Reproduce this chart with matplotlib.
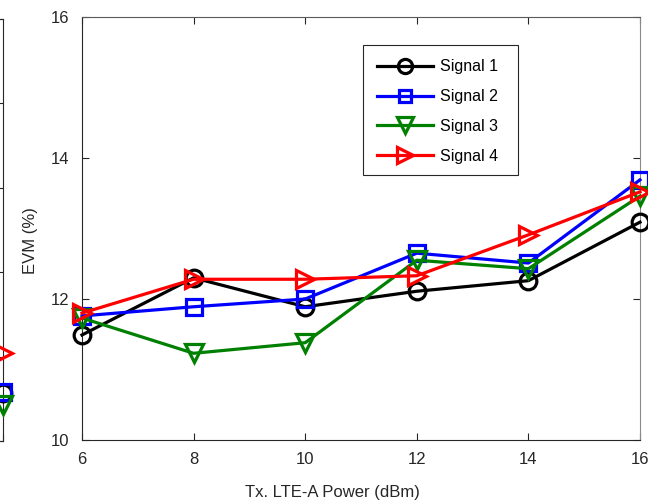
import numpy as np
import matplotlib
matplotlib.use("Agg")
import matplotlib.pyplot as plt
from matplotlib.patches import Rectangle

plt.rcParams['font.family'] = ['Liberation Sans', 'DejaVu Sans']

# ── Data ───────────────────────────────────────────────────────────────
power = [6, 8, 10, 12, 14, 16]
signal1 = [11.49, 12.30, 11.89, 12.11, 12.26, 13.09]
signal2 = [11.76, 11.89, 12.00, 12.65, 12.51, 13.69]
signal3 = [11.73, 11.23, 11.38, 12.55, 12.43, 13.46]
signal4 = [11.80, 12.28, 12.28, 12.33, 12.91, 13.52]

# neighbouring (cropped) panel: only its last points are visible
left_x = [0, 1]
left_s1 = [None, 1.14]
left_s2 = [None, 1.16]
left_s3 = [None, 0.85]
left_s4 = [None, 2.08]

labels = ['Signal 1', 'Signal 2', 'Signal 3', 'Signal 4']
colors = ['black', 'blue', 'green', 'red']
markers = ['o', 's', 'v', '>']
msizes = [12, 11, 13, 13]

W, H = 648, 503
fig = plt.figure(figsize=(W / 100, H / 100), dpi=100)

def px_box(x0, y0, x1, y1):
    return [x0 / W, 1 - y1 / H, (x1 - x0) / W, (y1 - y0) / H]

axc = '#262626'
style = dict(lw=2.3, mew=2.3, fillstyle='none', clip_on=False, zorder=3)

# ── Cropped left panel ─────────────────────────────────────────────────
axl = fig.add_axes(px_box(-400, 19, 3, 441))
for ys, c, m, s in zip([left_s1, left_s2, left_s3, left_s4], colors, markers, msizes):
    y = [np.nan if v is None else v for v in ys]
    axl.plot(left_x, y, color=c, marker=m, ms=s, **style)
axl.set_xlim(0, 1)
axl.set_ylim(0, 10)
axl.set_yticks([0, 2, 4, 6, 8, 10])
axl.tick_params(direction='in', length=5, right=True, top=False,
                labelleft=False, labelbottom=False, color=axc)
for sp in axl.spines.values():
    sp.set_color(axc)

# ── Main panel ─────────────────────────────────────────────────────────
ax = fig.add_axes(px_box(82, 17, 640, 440))
for ys, lab, c, m, s in zip([signal1, signal2, signal3, signal4], labels, colors, markers, msizes):
    ax.plot(power, ys, color=c, marker=m, ms=s, label=lab, **style)

ax.set_xlim(6, 16)
ax.set_ylim(10, 16)
ax.set_xticks([6, 8, 10, 12, 14, 16])
ax.set_yticks([10, 12, 14, 16])
ax.tick_params(direction='in', length=5, top=True, right=True,
               labelsize=12, colors=axc, pad=9)
ax.spines['left'].set_color(axc)
ax.spines['bottom'].set_color(axc)
ax.spines['top'].set_color('#5a5a5a')
ax.spines['right'].set_color('#8a8a8a')

ax.set_xlabel('Tx. LTE-A Power (dBm)', fontsize=12, color=axc, va='center')
ax.xaxis.set_label_coords((332 - 82) / 558, (440 - 492) / 423)
ax.set_ylabel('EVM (%)', fontsize=12, color=axc, va='center')
ax.yaxis.set_label_coords((30 - 82) / 558, (440 - 241) / 423)

# legend frame (MATLAB-style box, wider on the right)
fx0, fy0 = (363 - 82) / 558, (440 - 175) / 423
ax.add_patch(Rectangle((fx0, fy0), 155 / 558, 130 / 423, transform=ax.transAxes,
                       facecolor='white', edgecolor=axc, lw=0.8, zorder=4,
                       clip_on=False))
leg = ax.legend(loc='upper left', bbox_to_anchor=((363 - 82) / 558, (440 - 45) / 423),
                borderaxespad=0, fontsize=11.5, handlelength=3.5, handletextpad=0.4,
                borderpad=0.9, labelspacing=0.93, frameon=False, markerscale=0.85)
leg.set_zorder(5)

fig.savefig('out.png', dpi=100)
